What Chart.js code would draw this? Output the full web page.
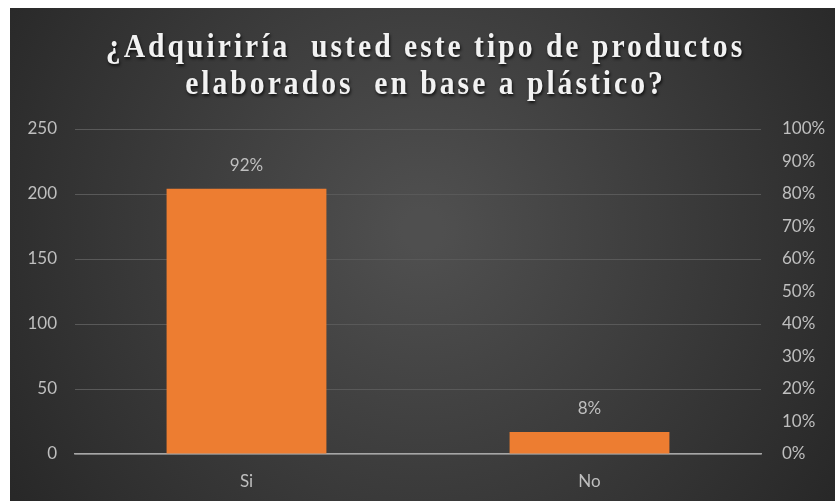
<!DOCTYPE html>
<html>
<head>
<meta charset="utf-8">
<script src="https://cdn.jsdelivr.net/npm/chart.js@4"></script>
<style>
  html, body { margin: 0; padding: 0; background: #fff; }
  #wrap { position: absolute; left: 10px; top: 8px; width: 825px; height: 493px; }
</style>
</head>
<body>
<div id="wrap"><canvas id="chart"></canvas></div>
<script>
// respuestas de la encuesta
const categorias = ['Si', 'No'];
const respuestas = [204, 17];
const tituloLineas = ['¿Adquiriría  usted este tipo de productos', 'elaborados  en base a plástico?'];
const ticksPorcentaje = [0, 0.1, 0.2, 0.3, 0.4, 0.5, 0.6, 0.7, 0.8, 0.9, 1];

const total = respuestas.reduce((a, b) => a + b, 0);
const gris = '#bfbfbf';
const fuenteEje = { family: 'Lato, "Open Sans", sans-serif', size: 17 };

// fondo oscuro con degradado radial
const fondo = {
  id: 'fondo',
  beforeDraw(chart) {
    const ctx = chart.ctx, w = chart.width, h = chart.height;
    const g = ctx.createRadialGradient(w * 0.5, h * 0.45, 20, w * 0.5, h * 0.45, w * 0.62);
    g.addColorStop(0, '#4f4f4f');
    g.addColorStop(1, '#262626');
    ctx.save();
    ctx.fillStyle = g;
    ctx.fillRect(0, 0, w, h);
    ctx.restore();
  }
};

// título en letra serif estrecha, con espaciado y sombra
const titulo = {
  id: 'titulo',
  afterDraw(chart) {
    const ctx = chart.ctx;
    const sx = 0.9;
    ctx.save();
    ctx.scale(sx, 1);
    ctx.font = 'bold 33px "Liberation Serif", "DejaVu Serif", serif';
    ctx.letterSpacing = '3.3px';
    ctx.fillStyle = '#f2f2f2';
    ctx.textAlign = 'center';
    ctx.textBaseline = 'alphabetic';
    ctx.shadowColor = 'rgba(0,0,0,0.75)';
    ctx.shadowBlur = 3;
    ctx.shadowOffsetX = 1;
    ctx.shadowOffsetY = 2;
    tituloLineas.forEach((t, i) => ctx.fillText(t, (chart.width / 2 + 3) / sx, 49 + i * 36.5));
    ctx.restore();
  }
};

// porcentaje encima de cada barra
const etiquetas = {
  id: 'etiquetas',
  afterDatasetsDraw(chart) {
    const ctx = chart.ctx;
    const meta = chart.getDatasetMeta(0);
    ctx.save();
    ctx.font = fuenteEje.size + 'px ' + fuenteEje.family;
    ctx.fillStyle = gris;
    ctx.textAlign = 'center';
    ctx.textBaseline = 'bottom';
    meta.data.forEach((bar, i) => {
      const pct = Math.round(respuestas[i] / total * 100) + '%';
      ctx.fillText(pct, bar.x, bar.y - 15);
    });
    ctx.restore();
  }
};

new Chart(document.getElementById('chart'), {
  type: 'bar',
  data: {
    labels: categorias,
    datasets: [{
      data: respuestas,
      backgroundColor: '#ED7D31',
      categoryPercentage: 0.466,
      barPercentage: 1,
      yAxisID: 'y'
    }]
  },
  options: {
    responsive: true,
    maintainAspectRatio: false,
    animation: false,
    layout: { padding: { top: 121, left: 0, right: 0, bottom: 0 } },
    plugins: { legend: { display: false }, tooltip: { enabled: false } },
    scales: {
      x: {
        grid: { display: false, drawTicks: false },
        border: { color: '#a6a6a6', width: 1.5 },
        ticks: { color: gris, font: fuenteEje, padding: 17 },
        afterFit(s) { s.height = 47; }
      },
      y: {
        position: 'left',
        min: 0, max: 250,
        ticks: { stepSize: 50, color: gris, font: fuenteEje, padding: 18 },
        grid: { color: '#595959', drawTicks: false },
        border: { display: false },
        afterFit(s) { s.width = 65; }
      },
      y1: {
        position: 'right',
        min: 0, max: 1,
        afterBuildTicks(s) { s.ticks = ticksPorcentaje.map(v => ({ value: v })); },
        ticks: {
          color: gris, font: fuenteEje, padding: 21,
          callback: v => Math.round(v * 100) + '%'
        },
        grid: { display: false, drawTicks: false },
        border: { display: false },
        afterFit(s) { s.width = 74; }
      }
    }
  },
  plugins: [fondo, titulo, etiquetas]
});
</script>
</body>
</html>
